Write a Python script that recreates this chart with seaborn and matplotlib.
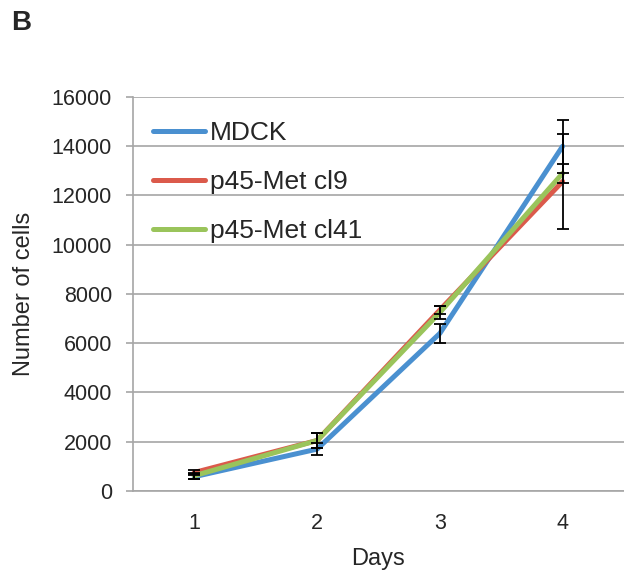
"""Cell growth curve: MDCK vs p45-Met clones."""

import matplotlib.pyplot as plt
import numpy as np
import pandas as pd
import seaborn as sns
from matplotlib.ticker import FixedLocator

DAYS = [1, 2, 3, 4]
SERIES = ["MDCK", "p45-Met cl9", "p45-Met cl41"]
MDCK = [580, 1700, 6400, 14000]
MDCK_ERR = [100, 250, 380, 1070]
CL9 = [750, 2050, 7350, 12570]
CL9_ERR = [120, 300, 170, 1930]
CL41 = [620, 2050, 7250, 12900]
CL41_ERR = [130, 320, 280, 380]
COLORS = ["#4A90D0", "#DB5A4B", "#9AC45B"]

FONT = ["Liberation Sans", "DejaVu Sans"]


def main():
    sns.set_theme(style="white")
    plt.rcParams["font.family"] = FONT

    values = [MDCK, CL9, CL41]
    errors = [MDCK_ERR, CL9_ERR, CL41_ERR]
    df = pd.DataFrame(
        {
            "Days": DAYS * len(SERIES),
            "cells": np.concatenate(values),
            "series": np.repeat(SERIES, len(DAYS)),
        }
    )

    fig = plt.figure(figsize=(6.24, 5.76), dpi=100)
    ax = fig.add_axes([0.213, 0.1476, 0.787, 0.684])

    sns.lineplot(
        data=df, x="Days", y="cells", hue="series", hue_order=SERIES,
        palette=COLORS, linewidth=3.6, errorbar=None, ax=ax, zorder=3,
    )
    for vals, errs in zip(values, errors):
        ax.errorbar(DAYS, vals, yerr=errs, fmt="none", ecolor="black",
                    elinewidth=1.3, capsize=4, capthick=1.3, zorder=4)

    ax.set_xlim(0.5, 4.5)
    ax.set_ylim(0, 16000)
    ax.set_yticks(np.arange(0, 16001, 2000))
    ax.yaxis.grid(True, color="#A6A6A6", linewidth=1.2)
    ax.set_axisbelow(True)
    ax.set_xticks(DAYS)
    ax.xaxis.set_minor_locator(FixedLocator([0.5, 1.5, 2.5, 3.5, 4.5]))
    ax.tick_params(axis="x", which="major", length=0, pad=16, labelsize=15.5)
    ax.tick_params(axis="x", which="minor", length=5, width=1.2, color="#A6A6A6", direction="out")
    ax.tick_params(axis="y", length=5, width=1.2, color="#A6A6A6", direction="out",
                   labelsize=15.5, pad=10, left=True)

    for side in ["top", "right"]:
        ax.spines[side].set_visible(False)
    for side in ["left", "bottom"]:
        ax.spines[side].set_color("#A6A6A6")
        ax.spines[side].set_linewidth(1.2)

    ax.set_xlabel("Days", fontsize=17, labelpad=10)
    ax.set_ylabel("Number of cells", fontsize=17, labelpad=12)

    ax.legend(
        loc="upper left", bbox_to_anchor=(0.02, 0.965), frameon=False,
        fontsize=19, handlelength=1.95, labelspacing=0.95, handletextpad=0.2,
        borderaxespad=0,
    )

    fig.text(0.018, 0.96, "B", fontsize=20, fontweight="bold", va="center")

    fig.savefig("out.png", dpi=100)
    plt.close(fig)


if __name__ == "__main__":
    main()
